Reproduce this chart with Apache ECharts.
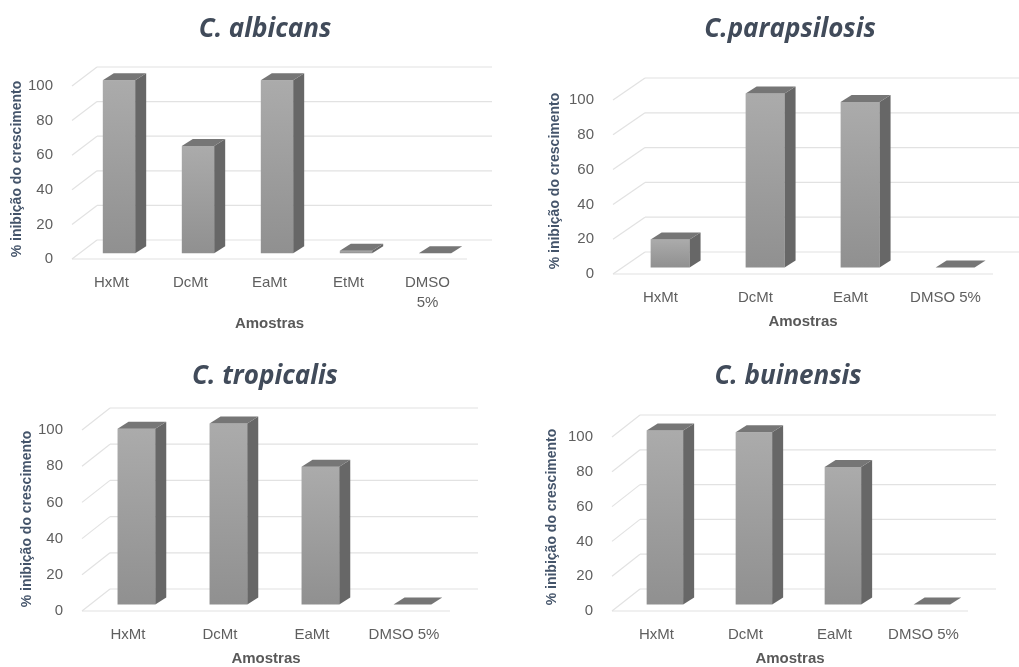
<!DOCTYPE html>
<html>
<head>
<meta charset="utf-8">
<script src="https://cdn.jsdelivr.net/npm/echarts@6/dist/echarts.min.js"></script>
<style>html,body{margin:0;padding:0;background:#fff}#c{width:1019px;height:667px}</style>
</head>
<body>
<div id="c"></div>
<script>
// ---- data ----
const categories5 = ['HxMt', 'DcMt', 'EaMt', 'EtMt', 'DMSO 5%'];
const categories4 = ['HxMt', 'DcMt', 'EaMt', 'DMSO 5%'];
const albicansValues = [100, 62, 100, 1.5, 0];
const parapsilosisValues = [16, 100, 95, 0];
const tropicalisValues = [97, 100, 76, 0];
const buinensisValues = [100, 99, 79, 0];
const yTicks = [0, 20, 40, 60, 80, 100];
const panelTitles = ['C. albicans', 'C.parapsilosis', 'C. tropicalis', 'C. buinensis'];
const yName = '% inibição do crescimento';
const xName = 'Amostras';

// ---- layout / style ----
const panels = [
  { cats: categories5, vals: albicansValues, grid: { left: 72, top: 86, width: 395, height: 173 }, depth: [25, -19], title: [260, 12], xGap: 57, yGap: 47, yPad: 7, wrap: true },
  { cats: categories4, vals: parapsilosisValues, grid: { left: 613, top: 100, width: 380, height: 174 }, depth: [32, -22], title: [785, 12], xGap: 40, yGap: 51, yPad: 12, wrap: false },
  { cats: categories4, vals: tropicalisValues, grid: { left: 82, top: 430, width: 368, height: 185 }, depth: [28, -22], title: [260, 359], xGap: 40, yGap: 47, yPad: 3, wrap: false },
  { cats: categories4, vals: buinensisValues, grid: { left: 612, top: 437, width: 356, height: 176 }, depth: [28, -22], title: [783, 359], xGap: 40, yGap: 53, yPad: 14, wrap: false }
];

const GRID_COLOR = '#e2e2e2';
const FRONT_GRAD = new echarts.graphic.LinearGradient(0, 0, 0, 1, [
  { offset: 0, color: '#ababab' }, { offset: 1, color: '#909090' }
]);
const SIDE_COLOR = '#676767';
const TOP_COLOR = '#767676';

function wallRenderer(D) {
  return function (params, api) {
    const cs = params.coordSys;
    const t = api.value(1);
    const y = api.coord([0, t])[1];
    const children = [
      { type: 'line', shape: { x1: cs.x + D[0], y1: y + D[1], x2: cs.x + cs.width + D[0], y2: y + D[1] }, style: { stroke: GRID_COLOR, lineWidth: 1.2 } },
      { type: 'line', shape: { x1: cs.x, y1: y, x2: cs.x + D[0], y2: y + D[1] }, style: { stroke: GRID_COLOR, lineWidth: 1.2 } }
    ];
    if (t === 0) {
      children.push({ type: 'line', shape: { x1: cs.x, y1: y, x2: cs.x + cs.width, y2: y }, style: { stroke: GRID_COLOR, lineWidth: 1.2 } });
    }
    return { type: 'group', children: children };
  };
}

function barRenderer(D) {
  return function (params, api) {
    const idx = api.value(0);
    const val = api.value(1);
    const p0 = api.coord([idx, 0]);
    const p1 = api.coord([idx, val]);
    const bw = api.size([1, 0])[0] * 0.41;
    const ox = D[0] * 0.3, oy = D[1] * 0.3;
    const bx = 11, by = -7;
    const xl = p0[0] - bw / 2 + ox, xr = xl + bw;
    const yb = p0[1] + oy, yt = p1[1] + oy;
    const children = [];
    if (yb - yt > 0.3) {
      children.push({ type: 'rect', shape: { x: xl, y: yt, width: bw, height: yb - yt }, style: { fill: FRONT_GRAD } });
      children.push({ type: 'polygon', shape: { points: [[xr, yt], [xr + bx, yt + by], [xr + bx, yb + by], [xr, yb]] }, style: { fill: SIDE_COLOR } });
    }
    children.push({ type: 'polygon', shape: { points: [[xl, yt], [xl + bx, yt + by], [xr + bx, yt + by], [xr, yt]] }, style: { fill: TOP_COLOR } });
    return { type: 'group', children: children };
  };
}

const option = {
  animation: false,
  backgroundColor: '#ffffff',
  title: panels.map((p, i) => ({
    text: panelTitles[i],
    left: p.title[0], top: p.title[1], textAlign: 'center',
    textStyle: { fontFamily: 'Open Sans', fontStyle: 'italic', fontWeight: 'bold', fontSize: 26, color: '#414b5a' }
  })),
  grid: panels.map(p => Object.assign({ containLabel: false }, p.grid)),
  xAxis: panels.map((p, i) => ({
    type: 'category', gridIndex: i, data: p.cats,
    name: xName, nameLocation: 'middle', nameGap: p.xGap,
    nameTextStyle: { fontFamily: 'Liberation Sans', fontWeight: 'bold', fontSize: 15, color: '#595959' },
    axisLine: { show: false }, axisTick: { show: false },
    axisLabel: {
      interval: 0, margin: 14, fontFamily: 'Liberation Sans', fontSize: 15, color: '#5f5f5f', lineHeight: 20,
      formatter: p.wrap ? (v => v.replace(' ', '\n')) : (v => v)
    },
    splitLine: { show: false }
  })),
  yAxis: panels.map((p, i) => ({
    type: 'value', gridIndex: i, min: 0, max: 100, interval: 20,
    name: yName, nameLocation: 'middle', nameGap: p.yGap, nameRotate: 90,
    nameTextStyle: { fontFamily: 'Liberation Sans', fontWeight: 'bold', fontSize: 14, color: '#44546a', padding: [0, 0, 0, p.yPad] },
    axisLine: { show: false }, axisTick: { show: false },
    axisLabel: { margin: 19, fontFamily: 'Liberation Sans', fontSize: 15, color: '#5f5f5f' },
    splitLine: { show: false }
  })),
  series: [].concat(
    panels.map((p, i) => ({
      type: 'custom', xAxisIndex: i, yAxisIndex: i, z: 1, clip: false, silent: true,
      renderItem: wallRenderer(p.depth),
      data: yTicks.map(t => [0, t])
    })),
    panels.map((p, i) => ({
      type: 'custom', xAxisIndex: i, yAxisIndex: i, z: 2, clip: false, silent: true,
      renderItem: barRenderer(p.depth),
      data: p.vals.map((v, k) => [k, v])
    }))
  )
};

const chart = echarts.init(document.getElementById('c'), null, { renderer: 'canvas' });
chart.setOption(option);
</script>
</body>
</html>
